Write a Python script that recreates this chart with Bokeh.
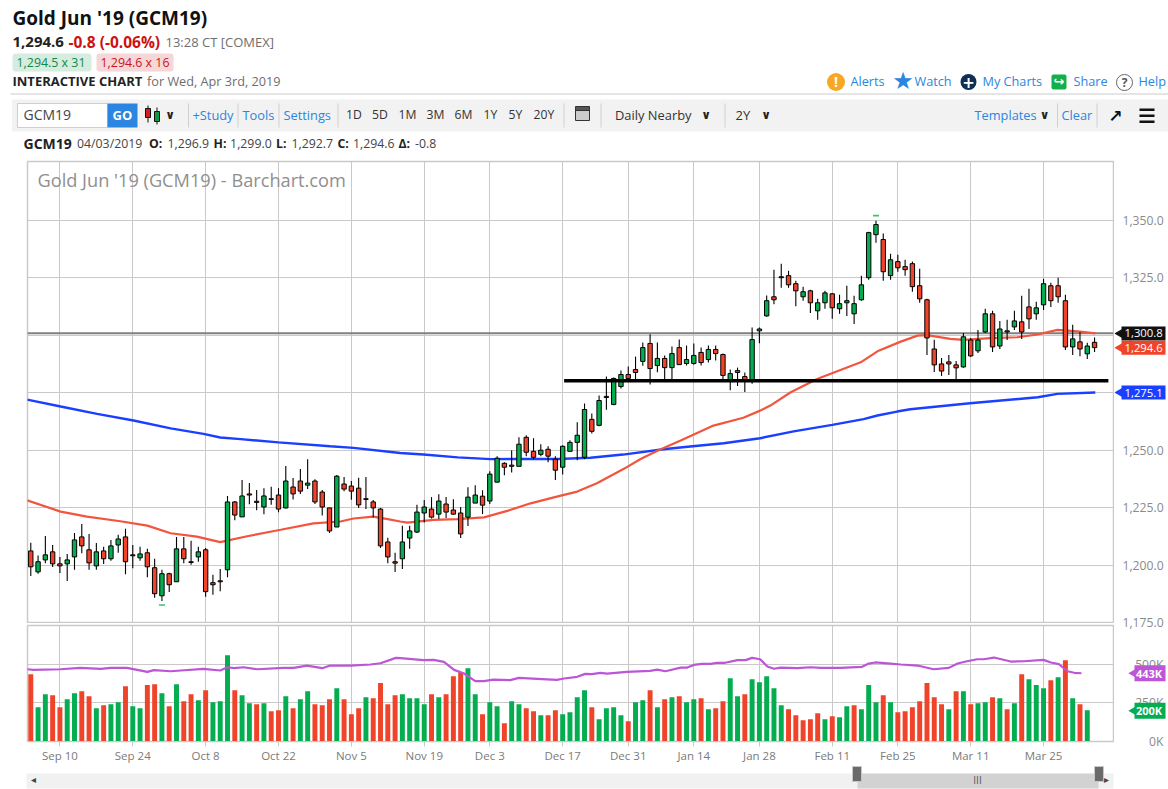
import math
from bokeh.plotting import figure
from bokeh.models import (Label, BoxAnnotation, Range1d, FixedTicker, ColumnDataSource)
from bokeh.core.properties import value
from bokeh.layouts import column, row
from bokeh.embed import file_html
from bokeh.resources import INLINE

# ---------- data ----------
opens = [1206.2,1197.1,1202.3,1205.8,1200.6,1200.6,1203.6,1212.3,1206.7,1199.7,1206.2,1202.8,1208.8,1212.3,1204.5,1203.2,1205.4,1198.9,1186.7,1196.3,
 1192.8,1207.1,1201.5,1203.6,1206.7,1192.4,1193.2,1198.0,1227.5,1221.0,1231.0,1227.8,1225.3,1228.9,1230.5,1224.9,1234.0,1236.6,1234.8,1236.6,
 1231.8,1224.9,1216.6,1235.3,1234.4,1233.5,1228.9,1227.5,1224.4,1210.1,1201.5,1202.8,1211.8,1214.4,1222.7,1224.4,1222.2,1226.6,1224.0,1222.7,
 1220.9,1227.0,1230.0,1227.9,1236.1,1244.3,1243.5,1243.0,1255.6,1249.5,1248.2,1250.4,1246.1,1242.6,1249.5,1253.4,1246.9,1263.4,1260.8,1273.4,
 1269.9,1277.7,1282.9,1285.1,1288.6,1296.4,1286.8,1289.9,1285.9,1294.6,1287.7,1287.7,1292.5,1289.4,1293.8,1291.6,1280.3,1284.6,1282.0,1280.3,
 1301.9,1308.4,1316.7,1325.4,1325.9,1322.4,1316.7,1319.3,1310.6,1314.1,1318.0,1311.5,1314.1,1309.3,1315.4,1325.0,1343.7,1341.6,1325.9,1332.0,
 1329.8,1331.1,1321.5,1315.4,1294.0,1287.5,1288.4,1287.1,1286.2,1297.9,1293.2,1301.4,1309.3,1295.3,1301.9,1303.6,1305.8,1312.3,1309.3,1313.2,
 1321.5,1321.5,1315.0,1294.9,1297.1,1291.9,1296.9]
highs = [1209.8,1204.2,1212.7,1208.8,1203.6,1204.9,1214.0,1217.9,1213.6,1209.7,1208.0,1211.0,1213.2,1215.8,1208.8,1208.0,1207.1,1202.8,1198.0,1196.7,
 1212.3,1212.3,1210.6,1208.0,1207.5,1195.8,1198.4,1230.1,1227.9,1237.0,1235.7,1232.7,1233.5,1234.1,1233.5,1243.1,1237.9,1241.8,1246.1,1237.4,
 1232.7,1224.9,1239.2,1238.3,1236.6,1238.0,1238.3,1228.3,1224.9,1211.9,1205.4,1217.2,1217.2,1226.3,1228.3,1229.6,1230.9,1229.6,1228.7,1225.3,
 1233.9,1234.8,1232.6,1240.9,1247.4,1244.8,1250.0,1255.6,1256.5,1255.2,1252.6,1251.7,1247.4,1252.1,1254.3,1262.1,1270.3,1266.0,1273.8,1282.0,
 1281.6,1284.6,1286.4,1290.7,1296.8,1300.4,1296.8,1291.2,1295.1,1298.1,1295.5,1296.4,1294.6,1295.5,1295.5,1292.0,1285.1,1285.9,1283.8,1303.3,
 1303.3,1317.3,1328.5,1331.1,1328.0,1323.7,1321.1,1319.8,1315.8,1319.3,1318.4,1317.6,1321.5,1317.1,1325.9,1345.0,1349.8,1344.2,1335.4,1335.0,
 1332.8,1332.0,1328.9,1315.8,1298.0,1290.1,1291.4,1288.8,1301.0,1298.8,1302.3,1311.5,1310.6,1306.2,1306.7,1310.6,1317.1,1320.2,1314.5,1324.5,
 1322.8,1325.0,1317.6,1304.5,1301.4,1296.7,1299.0]
lows = [1195.3,1196.3,1200.9,1199.2,1196.6,1193.1,1198.0,1205.2,1198.0,1198.0,1200.5,1201.9,1205.4,1196.1,1198.7,1201.9,1194.8,1185.9,1184.4,1188.3,
 1192.8,1200.9,1200.2,1201.5,1186.3,1187.2,1188.7,1194.8,1219.5,1221.0,1226.5,1223.9,1222.1,1226.3,1223.0,1224.7,1228.6,1231.0,1233.1,1226.6,
 1221.6,1214.0,1216.6,1232.2,1228.5,1224.9,1224.4,1220.8,1207.5,1200.9,1197.0,1198.4,1207.2,1214.0,1218.6,1220.3,1220.1,1220.5,1221.9,1211.8,
 1217.0,1227.0,1222.2,1226.6,1236.1,1239.1,1240.3,1243.0,1247.4,1246.1,1247.4,1244.8,1237.0,1239.4,1249.5,1245.6,1246.1,1257.3,1260.4,1267.6,
 1269.5,1276.8,1280.7,1280.3,1286.7,1278.6,1283.9,1280.3,1280.7,1287.2,1286.8,1287.2,1286.8,1288.1,1289.0,1280.3,1276.1,1277.9,1275.3,1278.9,
 1296.5,1308.0,1313.5,1320.6,1320.6,1312.6,1315.0,1309.7,1306.7,1311.5,1307.1,1309.3,1308.4,1304.9,1315.0,1324.1,1340.2,1323.7,1324.1,1327.6,
 1325.9,1318.9,1314.1,1291.4,1284.0,1282.3,1282.7,1281.0,1285.8,1290.5,1292.3,1301.0,1292.7,1294.0,1297.9,1302.3,1298.4,1302.7,1306.7,1311.0,
 1312.3,1314.1,1293.6,1291.4,1290.8,1289.7,1292.7]
closes = [1199.3,1201.5,1204.5,1200.6,1199.7,1202.3,1211.0,1208.4,1201.0,1205.8,1202.8,1208.4,1211.4,1201.5,1204.1,1204.9,1199.3,1187.6,1196.3,1191.5,
 1207.1,1202.8,1201.2,1205.8,1188.5,1191.5,1192.8,1227.5,1221.8,1230.1,1230.5,1227.3,1230.1,1228.6,1224.4,1236.6,1231.0,1232.2,1235.7,1227.5,
 1225.3,1214.9,1238.7,1233.1,1232.2,1226.2,1228.6,1224.9,1208.4,1203.6,1200.9,1210.1,1214.9,1223.1,1225.3,1220.9,1227.9,1223.1,1222.2,1213.6,
 1229.6,1230.5,1226.1,1239.6,1246.5,1242.6,1243.0,1252.6,1249.1,1246.9,1250.0,1247.4,1241.3,1251.7,1253.4,1256.5,1267.7,1258.2,1271.6,1272.9,
 1281.2,1282.9,1281.2,1283.8,1294.6,1285.5,1289.9,1285.9,1292.0,1287.2,1289.4,1291.2,1288.1,1293.8,1292.0,1282.5,1283.3,1283.8,1280.3,1298.1,
 1302.7,1315.0,1315.4,1325.0,1321.9,1319.3,1318.9,1314.1,1314.1,1318.4,1311.9,1313.7,1315.0,1313.7,1321.9,1344.6,1348.1,1327.6,1332.8,1329.3,
 1328.5,1321.1,1315.8,1298.8,1287.1,1284.4,1287.5,1285.8,1299.3,1291.0,1297.9,1309.3,1294.9,1302.7,1301.4,1306.2,1301.4,1307.1,1311.9,1322.4,
 1315.0,1316.7,1294.9,1298.4,1294.0,1295.3,1294.6]

volume_k = [437,223,307,301,223,275,314,327,294,216,236,242,255,359,229,216,366,372,314,229,
 372,262,307,268,333,255,262,560,333,301,249,242,249,197,203,294,216,275,327,242,
 236,275,346,275,177,216,288,281,379,242,301,307,281,281,242,307,288,307,424,450,
 476,307,177,255,229,119,262,242,216,197,171,171,203,177,190,288,333,223,145,216,
 223,171,132,255,268,333,223,275,288,294,255,275,281,210,216,262,411,294,307,404,
 385,424,346,236,210,171,138,145,184,145,164,158,229,236,210,366,255,301,255,190,
 197,223,262,379,288,242,210,327,327,242,249,255,288,281,210,249,437,404,366,346,
 398,417,528,281,242,203]
volume_up = ("DUUDDUUDDU" "DUUDUUDDUD" "UDDUDUUUDU" "UDUDDUDUUD" "DDUDDDUDDD" "D"
             "UUUUDUDDDU" "UDUUDUUDDU" "DDUUUUDUUU" "UDUUDUDUDU" "UDUDDUUDUU" "UUUDD"
             "DDDUDUUDUU" "UDUDDDDDDD" "UDUDUUDUDU" "DUUUDUDUDU")
assert len(volume_up) == len(volume_k) == 146

date_idx = [4,14,24,34,44,54,63,73,82,91,100,110,119,129,139]
date_labels = ["Sep 10","Sep 24","Oct 8","Oct 22","Nov 5","Nov 19","Dec 3","Dec 17","Dec 31","Jan 14","Jan 28","Feb 11","Feb 25","Mar 11","Mar 25"]
price_ticks = [1175,1200,1225,1250,1275,1300,1325,1350]
volume_ticks = [0,250,500]
volume_tick_labels = ["0K","250K","500K"]

ma50_idx = [-0.5,4.1,7.7,12.3,16,19.2,22.8,26,29.7,34.3,38.8,42.5,44.3,47,49,50.7,51.7,55.3,58.5,62.2,65.4,68.6,72.2,75,77.7,81.4,83.7,86,89.2,93.7,97.8,100.1,101.5,104.3,108,113.9,116.2,119.4,121.7,123,126.2,128,131.7,135.4,138.2,140.9,143.7,146.1]
ma50_val = [1228.2,1223.3,1221.1,1219.1,1217.2,1213.9,1212.4,1210.0,1212.6,1215.4,1218.2,1219.0,1220.3,1221.1,1220.0,1219.0,1218.5,1219.7,1220.0,1220.8,1223.6,1226.9,1229.8,1232.0,1235.6,1241.9,1246.2,1249.8,1254.2,1260.7,1264.1,1267.2,1269.4,1275.2,1281.1,1288.2,1293.0,1297.2,1299.8,1300.0,1298.4,1298.0,1298.7,1299.1,1300.3,1302.3,1301.7,1300.8]
ma200_idx = [-0.5,4.1,9.1,14.1,19.2,23.7,26,28.8,34,41.1,44.3,50.7,53.9,58.6,63.1,67.6,72.3,76.8,81.3,86.8,90.5,95.1,100.1,104.7,110,114.3,116.2,118.9,120.7,128.9,138.2,140.9,146.1]
ma200_val = [1272.0,1269.0,1265.8,1262.9,1259.5,1257.1,1255.5,1254.8,1253.4,1251.7,1251.0,1248.8,1248.1,1246.9,1246.1,1246.2,1246.2,1246.7,1248.1,1250.4,1251.6,1253.0,1255.2,1258.2,1261.0,1263.5,1265.1,1266.8,1267.8,1270.4,1273.0,1274.5,1275.1]
vol_ma_idx = [-0.5,0.4,4.1,6.8,9.6,11,13.2,16,16.9,19.2,20.6,23.7,26,27,27.9,29.2,31.1,34.7,36.1,37.9,40,41.1,43.9,46.6,48,50.1,50.7,53.9,55.3,56.7,58.1,59.4,61,62.2,63.5,65.8,67,69.5,72.2,73.2,75,76.1,77,78.2,79.1,81.8,85,86,87.1,89.2,90.1,91,92.1,93.3,94.2,95.3,97,98.1,99,100.1,101.1,102,102.9,105.2,107,108.4,111.1,114.1,115,115.9,118,119.4,121.7,123.9,126,127.2,128.5,129.9,130.8,132.2,134.5,136.3,139,140,141.1,142.3,143.2,144.2]
vol_ma_val = [469,465,469,478,471,478,478,452,463,456,461,471,461,482,476,482,469,478,478,493,476,493,493,500,508,543,541,528,530,517,465,443,392,392,402,398,413,407,400,409,420,439,437,446,441,452,459,467,456,480,480,497,504,504,511,511,528,528,543,534,487,472,480,476,482,478,478,485,506,513,506,500,493,469,478,506,521,534,534,545,519,521,530,513,502,456,446,443]

support_level = 1280.2
support_start = 73.2
support_end = 147.9
reference_price = 1300.8
hi_lo_idx = [18,116]
hi_lo_val = [1182.7,1352.0]
price_tag_values = [1300.8,1294.6,1275.1]
price_tag_labels = ["1,300.8","1,294.6","1,275.1"]
volume_tag_values = [443,200]
volume_tag_labels = ["443K","200K"]

# ---------- colours ----------
GREEN, RED, BLUE, MA_RED, PURPLE = "#04AD50", "#F0442A", "#1B3FFF", "#F2553D", "#BC55D6"
GRID = "#c9c9c9"; LINK = "#2A86E0"; GREY = "#6e6e6e"; DARK = "#222222"; TOOLBG = "#f2f2f2"
FONT = "Open Sans"

X_RANGE = (-0.45, 148.6)
n = len(opens)
assert len(highs)==n and len(lows)==n and len(closes)==n
idx = list(range(n))
cand = ColumnDataSource(dict(x=idx, h=highs, l=lows,
    top=[max(a,b) for a,b in zip(opens,closes)], bot=[min(a,b) for a,b in zip(opens,closes)],
    col=[GREEN if c>=o else RED for o,c in zip(opens,closes)]))

def blank(f):
    f.xaxis.visible = False; f.yaxis.visible = False
    f.xgrid.visible = False; f.ygrid.visible = False
    f.outline_line_color = None

# ---------- header canvas (page pixels) ----------
h = figure(width=1168, height=160, min_border=0, x_range=Range1d(0,1168), y_range=Range1d(160,0),
           toolbar_location=None, output_backend="svg")
blank(h)

# ---------- price panel ----------
p = figure(width=1114, height=463, min_border_left=27, min_border_right=1, min_border_top=1, min_border_bottom=0,
           x_range=Range1d(*X_RANGE), y_range=Range1d(1174.65,1375.52),
           toolbar_location=None, output_backend="svg")
p.xaxis.visible = False; p.yaxis.visible = False
p.xgrid.ticker = FixedTicker(ticks=date_idx)
p.ygrid.ticker = FixedTicker(ticks=price_ticks)
for g in (p.xgrid, p.ygrid):
    g.grid_line_color = GRID; g.grid_line_width = 1
p.outline_line_color = GRID; p.outline_line_width = 1.5

p.segment(X_RANGE[0], reference_price, X_RANGE[1], reference_price, line_color="#808080", line_width=2)
p.line(ma200_idx, ma200_val, line_color=BLUE, line_width=2.4)
p.line(ma50_idx, ma50_val, line_color=MA_RED, line_width=2.2)
p.segment("x","h","x","l", source=cand, line_color="black", line_width=1.1)
p.vbar(x="x", top="top", bottom="bot", width=0.6, source=cand, fill_color="col", line_color="black", line_width=1)
p.scatter(hi_lo_idx, hi_lo_val, marker="dash", size=6, line_color="#35C46F", line_width=1.6)
p.segment(support_start, support_level, support_end, support_level, line_color="black", line_width=3.4)
# watermark sits in the price frame (screen y runs upward from the frame's bottom)
p.add_layout(Label(x=37-27, y=623-179.5, x_units="screen", y_units="screen", text="Gold Jun '19 (GCM19) - Barchart.com",
    text_font=FONT, text_font_size="18.2px", text_color="#8f8f8f", text_baseline="middle"))

# ---------- volume panel ----------
v = figure(width=1114, height=141, frame_height=116, min_border_left=27, min_border_right=1, min_border_top=2, min_border_bottom=23,
           x_range=Range1d(*X_RANGE), y_range=Range1d(0,753),
           toolbar_location=None, output_backend="svg")
v.yaxis.visible = False
v.xgrid.ticker = FixedTicker(ticks=date_idx)
v.ygrid.ticker = FixedTicker(ticks=volume_ticks)
for g in (v.xgrid, v.ygrid):
    g.grid_line_color = GRID; g.grid_line_width = 1
v.outline_line_color = GRID; v.outline_line_width = 1.5
xa = v.xaxis[0]
xa.ticker = FixedTicker(ticks=date_idx)
xa.major_label_overrides = dict(zip(date_idx, date_labels))
xa.axis_line_color = GRID; xa.major_tick_line_color = GRID; xa.minor_tick_line_color = None
xa.major_tick_out = 5; xa.major_tick_in = 0
xa.major_label_text_font = FONT; xa.major_label_text_font_size = "11.5px"; xa.major_label_text_color = "#7a7a7a"
xa.major_label_standoff = 1
v.vbar(x=list(range(len(volume_k))), top=volume_k, bottom=0, width=0.68, line_color=None,
       fill_color=[GREEN if f=="U" else RED for f in volume_up])
v.line(vol_ma_idx, vol_ma_val, line_color=PURPLE, line_width=2.2)

# ---------- right strip: price and volume scale texts and value tags ----------
s = figure(width=54, height=604, min_border=0, x_range=Range1d(1114,1168), y_range=Range1d(1113.4,1375.96),
           extra_y_ranges={"vol": Range1d(-149.4,3772.7)}, toolbar_location=None, output_backend="svg")
blank(s)
price_tick_text = [f"{t:,.1f}" for t in price_ticks]
s.text([1122]*len(price_ticks), price_ticks, text=price_tick_text, text_font=value(FONT), text_font_size="12.2px",
       text_color="#8a8a8a", text_baseline="middle", text_align="left")
s.text([1163]*len(volume_ticks), volume_ticks, text=volume_tick_labels, y_range_name="vol", text_font=value(FONT),
       text_font_size="12.2px", text_color="#8a8a8a", text_baseline="middle", text_align="right")
tag_cols = ["#111111", RED, BLUE]
s.rect([1143]*3, price_tag_values, width=44, height=14, width_units="data", height_units="screen",
       fill_color=tag_cols, line_color=None)
s.scatter([1119]*3, price_tag_values, marker="triangle", angle=math.pi/2, size=9, fill_color=tag_cols, line_color=None)
s.text([1124]*3, price_tag_values, text=price_tag_labels, text_font=value(FONT), text_font_size="11.3px",
       text_color="white", text_baseline="middle", text_align="left")
vt_cols = [PURPLE, GREEN]
s.rect([1149.5]*2, volume_tag_values, width=31, height=16, width_units="data", height_units="screen",
       fill_color=vt_cols, line_color=None, y_range_name="vol")
s.scatter([1133]*2, volume_tag_values, marker="triangle", angle=math.pi/2, size=9, fill_color=vt_cols, line_color=None, y_range_name="vol")
s.text([1135.5]*2, volume_tag_values, text=volume_tag_labels, y_range_name="vol", text_font=value(FONT), text_font_size="11px",
       text_font_style="bold", text_color="white", text_baseline="middle", text_align="left")

# ---------- navigator canvas (page pixels) ----------
nav = figure(width=1168, height=25, min_border=0, x_range=Range1d(0,1168), y_range=Range1d(789,764),
             toolbar_location=None, output_backend="svg")
blank(nav)

# ---------- page furniture, given in page pixels ----------
def T(fig, x, y, text, size=13, color=DARK, bold=False, align="left", font=FONT):
    fig.add_layout(Label(x=x, y=y-1, text=text, text_font=font, text_font_size=f"{size}px", text_color=color,
        text_align=align, text_baseline="middle", text_font_style="bold" if bold else "normal"))
def B(fig, x0, y0, x1, y1, fill, line=None, radius=0):
    fig.add_layout(BoxAnnotation(left=x0, right=x1, top=y0, bottom=y1, fill_color=fill, fill_alpha=1,
        line_color=line, line_alpha=1 if line else 0, line_width=1, border_radius=radius))
def chevron(x, y=115):
    T(h,x,y,"∨",size=12,color="#222",bold=True,align="center",font="DejaVu Sans")

T(h,12,18,"Gold Jun '19 (GCM19)",size=19,color="#111",bold=True)
T(h,12,42,"1,294.6",size=15,bold=True)
T(h,68,42,"-0.8 (-0.06%)",size=15.5,color="#CC1111",bold=True)
T(h,165,42,"13:28 CT [COMEX]",size=13,color=GREY)
B(h,12,53,91,71,"#D6ECDF",radius=3); T(h,16,63,"1,294.5 x 31",size=12.4,color="#0E8A4B")
B(h,96,53,173,71,"#F6D7D7",radius=3); T(h,100,63,"1,294.6 x 16",size=12.4,color="#C9141C")
T(h,12,81.5,"INTERACTIVE CHART",size=13,bold=True)
T(h,146.5,81.5,"for Wed, Apr 3rd, 2019",size=12.7,color=GREY)
B(h,826.5,72.5,844.5,90.5,"#F7A823",radius=9); T(h,835.5,82,"!",size=14,color="white",bold=True,align="center")
T(h,850,81.5,"Alerts",size=12.7,color=LINK)
T(h,902.5,81,"★",size=24,color=LINK,align="center",font="DejaVu Sans")
T(h,914,81.5,"Watch",size=12.7,color=LINK)
B(h,960,73.5,976,89.5,"#0F2F57",radius=8); T(h,968,82,"+",size=15,color="white",bold=True,align="center",font="DejaVu Sans")
T(h,982,81.5,"My Charts",size=12.7,color=LINK)
B(h,1051,74,1066,89,"#12B04B",radius=2); T(h,1058.5,82,"↪",size=13,color="white",bold=True,align="center",font="DejaVu Sans")
T(h,1073,81.5,"Share",size=12.7,color=LINK)
B(h,1116,74,1132,90,"white",line="#666666",radius=8); T(h,1124,83,"?",size=12,color="#555",bold=True,align="center")
T(h,1138,81.5,"Help",size=12.7,color=LINK)
B(h,10,93,1168,94,"#cccccc")

B(h,11.5,99,1168,131,TOOLBG)
B(h,17,103,107,127,"white",line="#cfcfcf")
T(h,23,115,"GCM19",size=14,color="#444")
B(h,107,103,137,127,LINK); T(h,122,115,"GO",size=13,color="white",bold=True,align="center")
B(h,147,105,148,122,"#111"); B(h,145,108,150,117,"#D02020",line="#111")
B(h,156,107,157,124,"#111"); B(h,154,111,159,121,"#0C9A4A",line="#111")
chevron(169.5)
for sx in (187.5,237,278,337,563,600,724,1056.5,1096):
    B(h,sx,103,sx+1,127,"#cfcfcf")
T(h,192,115,"+Study",size=12.8,color=LINK)
T(h,242,115,"Tools",size=12.8,color=LINK)
T(h,283,115,"Settings",size=12.8,color=LINK)
for tx,t in zip((345.6,371.6,398,426,454,483,508,533),("1D","5D","1M","3M","6M","1Y","5Y","20Y")):
    T(h,tx,115,t,size=12.2,color="#333")
B(h,575,108,589,120,"#cccccc",line="#333"); B(h,575,106,589,110,"#555555",line="#333")
T(h,614.5,115,"Daily Nearby",size=12.9,color="#333")
chevron(705.5)
T(h,735,115,"2Y",size=13,color="#333")
chevron(765.5)
T(h,974,115,"Templates",size=12.8,color=LINK)
chevron(1044)
T(h,1061,115,"Clear",size=12.8,color=LINK)
T(h,1115,116,"↗",size=17,color="#111",bold=True,align="center",font="DejaVu Sans")
for hy in (108,114,120):
    B(h,1139,hy,1154,hy+2.4,"#111")

T(h,23,143.5,"GCM19",size=14,bold=True)
T(h,76.5,143.5,"04/03/2019",size=12.3,color="#444")
for tx,t,b in ((148.5,"O:",True),(167,"1,296.9",False),(213,"H:",True),(229.6,"1,299.0",False),(275.5,"L:",True),(291,"1,292.7",False),(337,"C:",True),(352.5,"1,294.6",False),(398,"Δ:",True),(414.5,"-0.8",False)):
    T(h,tx,143.5,t,size=12.3,bold=b,color=DARK if b else "#444")

# navigator
B(nav,26,772,1113,787,"#f1f1f1")
B(nav,857,772,1098,787,"#d2d2d2")
B(nav,852,765,861,780,"#6a6a6a",line="#c8c8c8"); B(nav,1094,765,1103,780,"#6a6a6a",line="#c8c8c8")
T(nav,977,779,"III",size=10,color="#555",align="center")
T(nav,33,779,"◂",size=10,color="#444",align="center",font="DejaVu Sans")
T(nav,1106,779,"▸",size=10,color="#444",align="center",font="DejaVu Sans")

layout = column(h, row(column(p, v, spacing=0), s, spacing=0), nav, spacing=0)
open("out.html","w").write(file_html(layout, INLINE))
